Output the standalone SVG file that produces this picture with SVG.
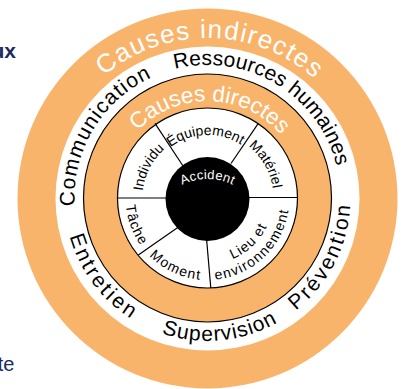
<svg xmlns="http://www.w3.org/2000/svg" width="403" height="389" viewBox="0 0 403 389">
<style>
.or{fill:#F9B46C}
.ln{stroke:#000;stroke-width:1.2;fill:none}
.t{font-family:"Liberation Sans",Arial,sans-serif}
.big{font-size:21px;fill:#000}
.wh{fill:#fff}
.seg{font-size:14px;fill:#000}
.side{font-family:"Liberation Sans",Arial,sans-serif;fill:#1c2a5c}
</style>
<defs>
<path id="pComm" d="M120.24,298.38 A133,133 0 0,1 255.16,73.83"/>
<path id="pRess" d="M107.12,110.74 A133,133 0 0,1 331.67,245.66"/>
<path id="pPrev" d="M165.69,334.75 A143,143 0 0,0 293.56,83.8"/>
<path id="pSup" d="M69.71,236.21 A143,143 0 0,0 350.06,209.22"/>
<path id="pEnt" d="M102.91,100.47 A143,143 0 0,0 272.42,325.41"/>
<path id="pCI" d="M50.44,167.47 A160,160 0 0,1 365.53,172.97"/>
<path id="pCD" d="M112.45,178.66 A97,97 0 0,1 303.43,183.66"/>
<path id="pAcc" d="M157.27,208 A58,58 0 0,1 257.73,208"/>
<path id="pEq" d="M157.86,159.21 A63,63 0 0,1 254.32,155.85"/>
<path id="pInd" d="M147.45,222.88 A65,65 0 0,1 193.43,134.54"/>
<path id="pMat" d="M218.96,133 A66,66 0 0,1 269.52,220.57"/>
<path id="pTac" d="M136.13,157.62 A82,82 0 0,0 180.13,275.29"/>
<path id="pMom" d="M128.3,219.22 A82,82 0 0,0 242.15,272.32"/>
<path id="pEnv" d="M184.48,276.7 A82,82 0 0,0 287.17,178.58"/>
<path id="pLieu" d="M200.03,263.58 A66,66 0 0,0 273.37,193.97"/>
</defs>
<text class="side" x="16" y="58" font-size="21" font-weight="bold" text-anchor="end">ux</text>
<text class="side" x="14.5" y="371" font-size="20" text-anchor="end">te</text>
<g id="ring-indirect">
<circle class="or" cx="207.5" cy="198.5" r="190"/>
<circle cx="207.5" cy="198.5" r="152" fill="#fff"/>
<text class="t wh" font-size="26" letter-spacing="1.4" text-anchor="middle"><textPath href="#pCI" startOffset="50%">Causes indirectes</textPath></text>
</g>
<g id="indirect-labels">
<text class="t big" letter-spacing="1.1" text-anchor="middle"><textPath href="#pComm" startOffset="50%">Communication</textPath></text>
<text class="t big" letter-spacing="0.1" text-anchor="middle"><textPath href="#pRess" startOffset="50%">Ressources humaines</textPath></text>
<text class="t big" letter-spacing="2.4" text-anchor="middle"><textPath href="#pPrev" startOffset="50%">Prévention</textPath></text>
<text class="t big" letter-spacing="1" text-anchor="middle"><textPath href="#pSup" startOffset="50%">Supervision</textPath></text>
<text class="t big" letter-spacing="2.6" text-anchor="middle"><textPath href="#pEnt" startOffset="50%">Entretien</textPath></text>
</g>
<g id="ring-direct">
<circle class="or" cx="207.5" cy="198" r="124" stroke="#000" stroke-width="1.2"/>
<text class="t wh" font-size="22.5" text-anchor="middle"><textPath href="#pCD" startOffset="50%">Causes directes</textPath></text>
</g>
<g id="ring-factors">
<circle cx="207.5" cy="198" r="90" fill="#fff"/>
</g>
<g id="connectors">
<line class="ln" x1="155" y1="123.3" x2="183" y2="166"/>
<line class="ln" x1="258.3" y1="123.3" x2="231" y2="163.5"/>
<line class="ln" x1="117.5" y1="198" x2="170" y2="198"/>
<line class="ln" x1="297.5" y1="197.5" x2="245" y2="197.5"/>
<line class="ln" x1="138.3" y1="255" x2="181" y2="225.3"/>
<line class="ln" x1="210.8" y1="288" x2="206.3" y2="236"/>
<circle class="ln" cx="207.5" cy="198" r="90"/>
</g>
<g id="factor-labels">
<text class="t seg" text-anchor="middle"><textPath href="#pEq" startOffset="50%">Équipement</textPath></text>
<text class="t seg" text-anchor="middle"><textPath href="#pInd" startOffset="50%">Individu</textPath></text>
<text class="t seg" text-anchor="middle"><textPath href="#pMat" startOffset="50%">Matériel</textPath></text>
<text class="t seg" letter-spacing="1" text-anchor="middle"><textPath href="#pTac" startOffset="50%">Tâche</textPath></text>
<text class="t seg" letter-spacing="1.2" text-anchor="middle"><textPath href="#pMom" startOffset="50%">Moment</textPath></text>
<text class="t seg" letter-spacing="1" text-anchor="middle"><textPath href="#pLieu" startOffset="50%">Lieu et</textPath></text>
<text class="t seg" letter-spacing="1.3" text-anchor="middle"><textPath href="#pEnv" startOffset="50%">environnement</textPath></text>
</g>
<g id="accident">
<circle cx="207.5" cy="199" r="42" fill="#000"/>
<text class="t wh" font-size="13" letter-spacing="0.3" text-anchor="middle"><textPath href="#pAcc" startOffset="50%">Accident</textPath></text>
</g>
</svg>
